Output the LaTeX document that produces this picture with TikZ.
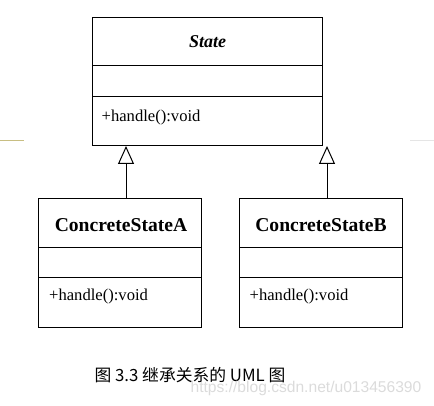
\documentclass[tikz,border=0pt]{standalone}
\usepackage{fontspec}
\setmainfont{Liberation Serif}
\newfontfamily\cjk{Noto Sans CJK SC}
\newfontfamily\wmfont{Liberation Sans}
\usetikzlibrary{arrows.meta}
\begin{document}
\begin{tikzpicture}[x=1pt,y=-1pt,
  classbox/.style={draw=black,line width=1pt},
  divider/.style={draw=black,line width=1pt},
  clsname/.style={font=\fontsize{19.6}{19.6}\selectfont\bfseries,inner sep=0pt},
  absname/.style={font=\fontsize{18}{18}\selectfont\bfseries\itshape,inner sep=0pt},
  member/.style={font=\fontsize{16.6}{16.6}\selectfont,inner sep=0pt,anchor=base west},
  inherit/.style={draw=black,line width=1pt,-{Triangle[open,length=18pt,width=16pt,line width=1pt]}},
  caption/.style={font=\cjk\fontsize{16.8}{16.8}\selectfont,inner sep=0pt},
  watermark/.style={font=\wmfont\fontsize{15.6}{15.6}\selectfont,text=black!14,inner sep=0pt}]
\useasboundingbox (0,0) rectangle (434,406);
% slide artifacts
\draw[line width=1pt,draw={rgb,255:red,200;green,190;blue,130}] (0,141) -- (24,141);
\draw[line width=1pt,draw=black!10] (410,141) -- (434,141);
% State
\node[classbox,minimum width=230pt,minimum height=128pt,inner sep=0pt] (state) at (207.5,82) {};
\draw[divider] (92.5,65.5) -- (322.5,65.5);
\draw[divider] (92.5,96.5) -- (322.5,96.5);
\node[absname] (statename) at (207.5,42) {State};
\node[member] (statem) at (101.5,121.5) {+handle():void};
% ConcreteStateA
\node[classbox,minimum width=162.5pt,minimum height=128pt,inner sep=0pt] (a) at (119.75,263) {};
\draw[divider] (38.5,247.5) -- (201,247.5);
\draw[divider] (38.5,277.5) -- (201,277.5);
\node[clsname] (aname) at (121,225) {ConcreteStateA};
\node[member] (am) at (49,301) {+handle():void};
% ConcreteStateB
\node[classbox,minimum width=162.5pt,minimum height=128pt,inner sep=0pt] (b) at (320.75,263) {};
\draw[divider] (239.5,247.5) -- (402,247.5);
\draw[divider] (239.5,277.5) -- (402,277.5);
\node[clsname] (bname) at (321,225) {ConcreteStateB};
\node[member] (bm) at (249.5,301) {+handle():void};
% inheritance
\coordinate (atop) at (126,199);
\coordinate (atip) at (126,146);
\coordinate (btop) at (327,199);
\coordinate (btip) at (327,146);
\draw[inherit] (atop) -- (atip);
\draw[inherit] (btop) -- (btip);
% caption
\node[caption] (cap) at (190,375) {图 3.3 继承关系的 UML 图};
\node[watermark] (wm) at (306,388) {https://blog.csdn.net/u013456390};
\end{tikzpicture}
\end{document}
